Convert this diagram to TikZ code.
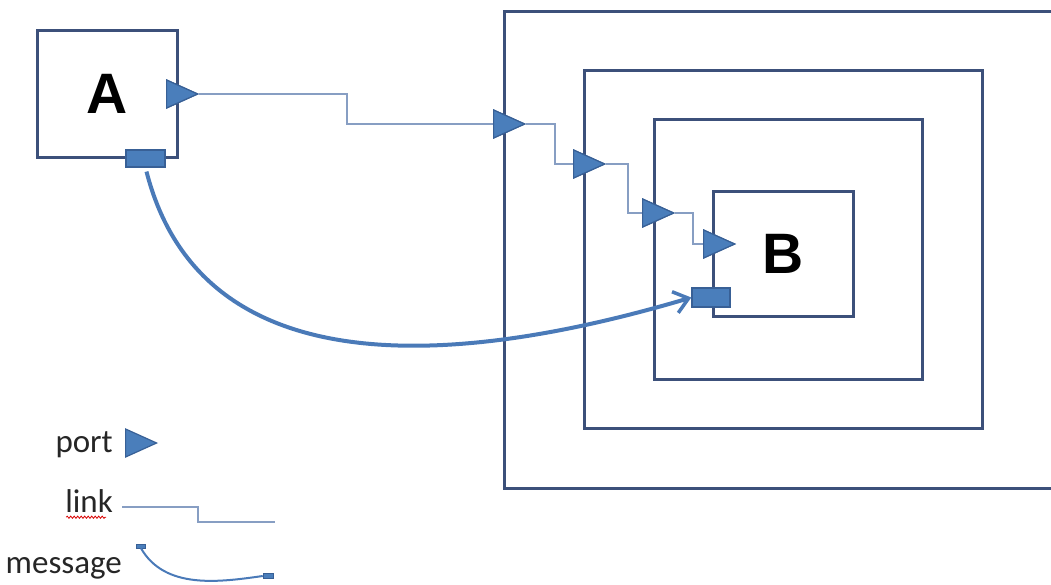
\documentclass[tikz,border=0pt]{standalone}
\usepackage{fontspec}
\setmainfont{Carlito}
\newfontfamily\boxfont{Liberation Sans}
\usetikzlibrary{shapes.geometric,arrows.meta,decorations.pathmorphing}
\definecolor{boxc}{RGB}{60,80,122}
\definecolor{portfill}{RGB}{74,126,187}
\definecolor{portdraw}{RGB}{56,96,150}
\definecolor{linkc}{RGB}{135,158,195}
\definecolor{msgc}{RGB}{74,122,184}
\tikzset{
  frame/.style={draw=boxc, line width=3pt, fill=none, rectangle, inner sep=0pt},
  labelbox/.style={frame, font=\boxfont\bfseries\fontsize{57}{60}\selectfont},
  portnode/.style={isosceles triangle, shape border rotate=0, isosceles triangle stretches,
    minimum width=28pt, minimum height=31pt, inner sep=0pt, fill=portfill, draw=portdraw, line width=1.2pt},
  msgbox/.style={rectangle, fill=portfill, draw=portdraw, line width=1.4pt, inner sep=0pt},
  linkline/.style={draw=linkc, line width=2pt},
  msgline/.style={draw=msgc, line width=4pt},
  legtext/.style={font=\fontsize{33}{36}\selectfont, inner sep=0pt, text=black!85}
}
\begin{document}
\begin{tikzpicture}[x=1pt,y=-1pt]
\useasboundingbox (0,0) rectangle (1051,584);
\clip (0,0) rectangle (1051,584);
% boxes
\node[labelbox, minimum width=140pt, minimum height=127pt] (A) at (107,93.5) {A};
\node[frame, minimum width=566pt, minimum height=477pt] (O1) at (787,249.5) {};
\node[frame, minimum width=398pt, minimum height=358pt] (O2) at (783,249) {};
\node[frame, minimum width=268pt, minimum height=260pt] (O3) at (788,249) {};
\node[labelbox, minimum width=140pt, minimum height=125pt] (B) at (783,253.5) {B};
% links
\coordinate (pAin) at (166,94);
\coordinate (p1in) at (493,124);
\coordinate (p2in) at (573,164);
\coordinate (p3in) at (642,213);
\coordinate (p4in) at (703,244);
% ports
\node[portnode, anchor=west] (pA) at (pAin) {};
\node[portnode, anchor=west] (p1) at (p1in) {};
\node[portnode, anchor=west] (p2) at (p2in) {};
\node[portnode, anchor=west] (p3) at (p3in) {};
\node[portnode, anchor=west] (p4) at (p4in) {};
\draw[linkline] (pA.east) -- ++(148,0) |- (p1.west);
\draw[linkline] (p1.east) -- ++(29,0) |- (p2.west);
\draw[linkline] (p2.east) -- ++(22,0) |- (p3.west);
\draw[linkline] (p3.east) -- ++(18,0) |- (p4.west);
% redraw ports on top of links
\node[portnode, anchor=west] at (pAin) {};
\node[portnode, anchor=west] at (p1in) {};
\node[portnode, anchor=west] at (p2in) {};
\node[portnode, anchor=west] at (p3in) {};
\node[portnode, anchor=west] at (p4in) {};
% message rects
\node[msgbox, minimum width=39pt, minimum height=17pt] (mA) at (145.5,158.5) {};
\node[msgbox, minimum width=38pt, minimum height=19pt] (mB) at (711,297.5) {};
% message
\draw[msgline, shorten <=4pt, -{Straight Barb[length=14pt,width=22pt,line width=3.5pt]}]
  (mA.south) .. controls (200,380) and (440,372) .. (mB.west);
% legend
\node[legtext, anchor=base east] (lport) at (113,452) {port};
\node[portnode, anchor=west] (lp) at (125,443) {};
\node[legtext, anchor=base east] (llink) at (113,512) {link};
\draw[red!85!black, line width=0.8pt, decorate, decoration={snake, amplitude=1.1pt, segment length=3.5pt}]
  (llink.south west) ++(1,5) -- ++(40,0);
\coordinate (la) at (122,507);
\coordinate (lb) at (275,522);
\draw[linkline, line width=1.6pt] (la) -- (198,507) |- (lb);
\node[legtext, anchor=base east] (lmsg) at (122,573) {message};
\node[msgbox, minimum width=9pt, minimum height=4pt, line width=0.5pt] (lm1) at (141,546) {};
\node[msgbox, minimum width=10pt, minimum height=5pt, line width=0.5pt] (lm2) at (268,576) {};
\draw[draw=msgc, line width=2pt] (lm1.south) .. controls (165,590) and (220,582) .. (lm2.west);
\end{tikzpicture}
\end{document}
